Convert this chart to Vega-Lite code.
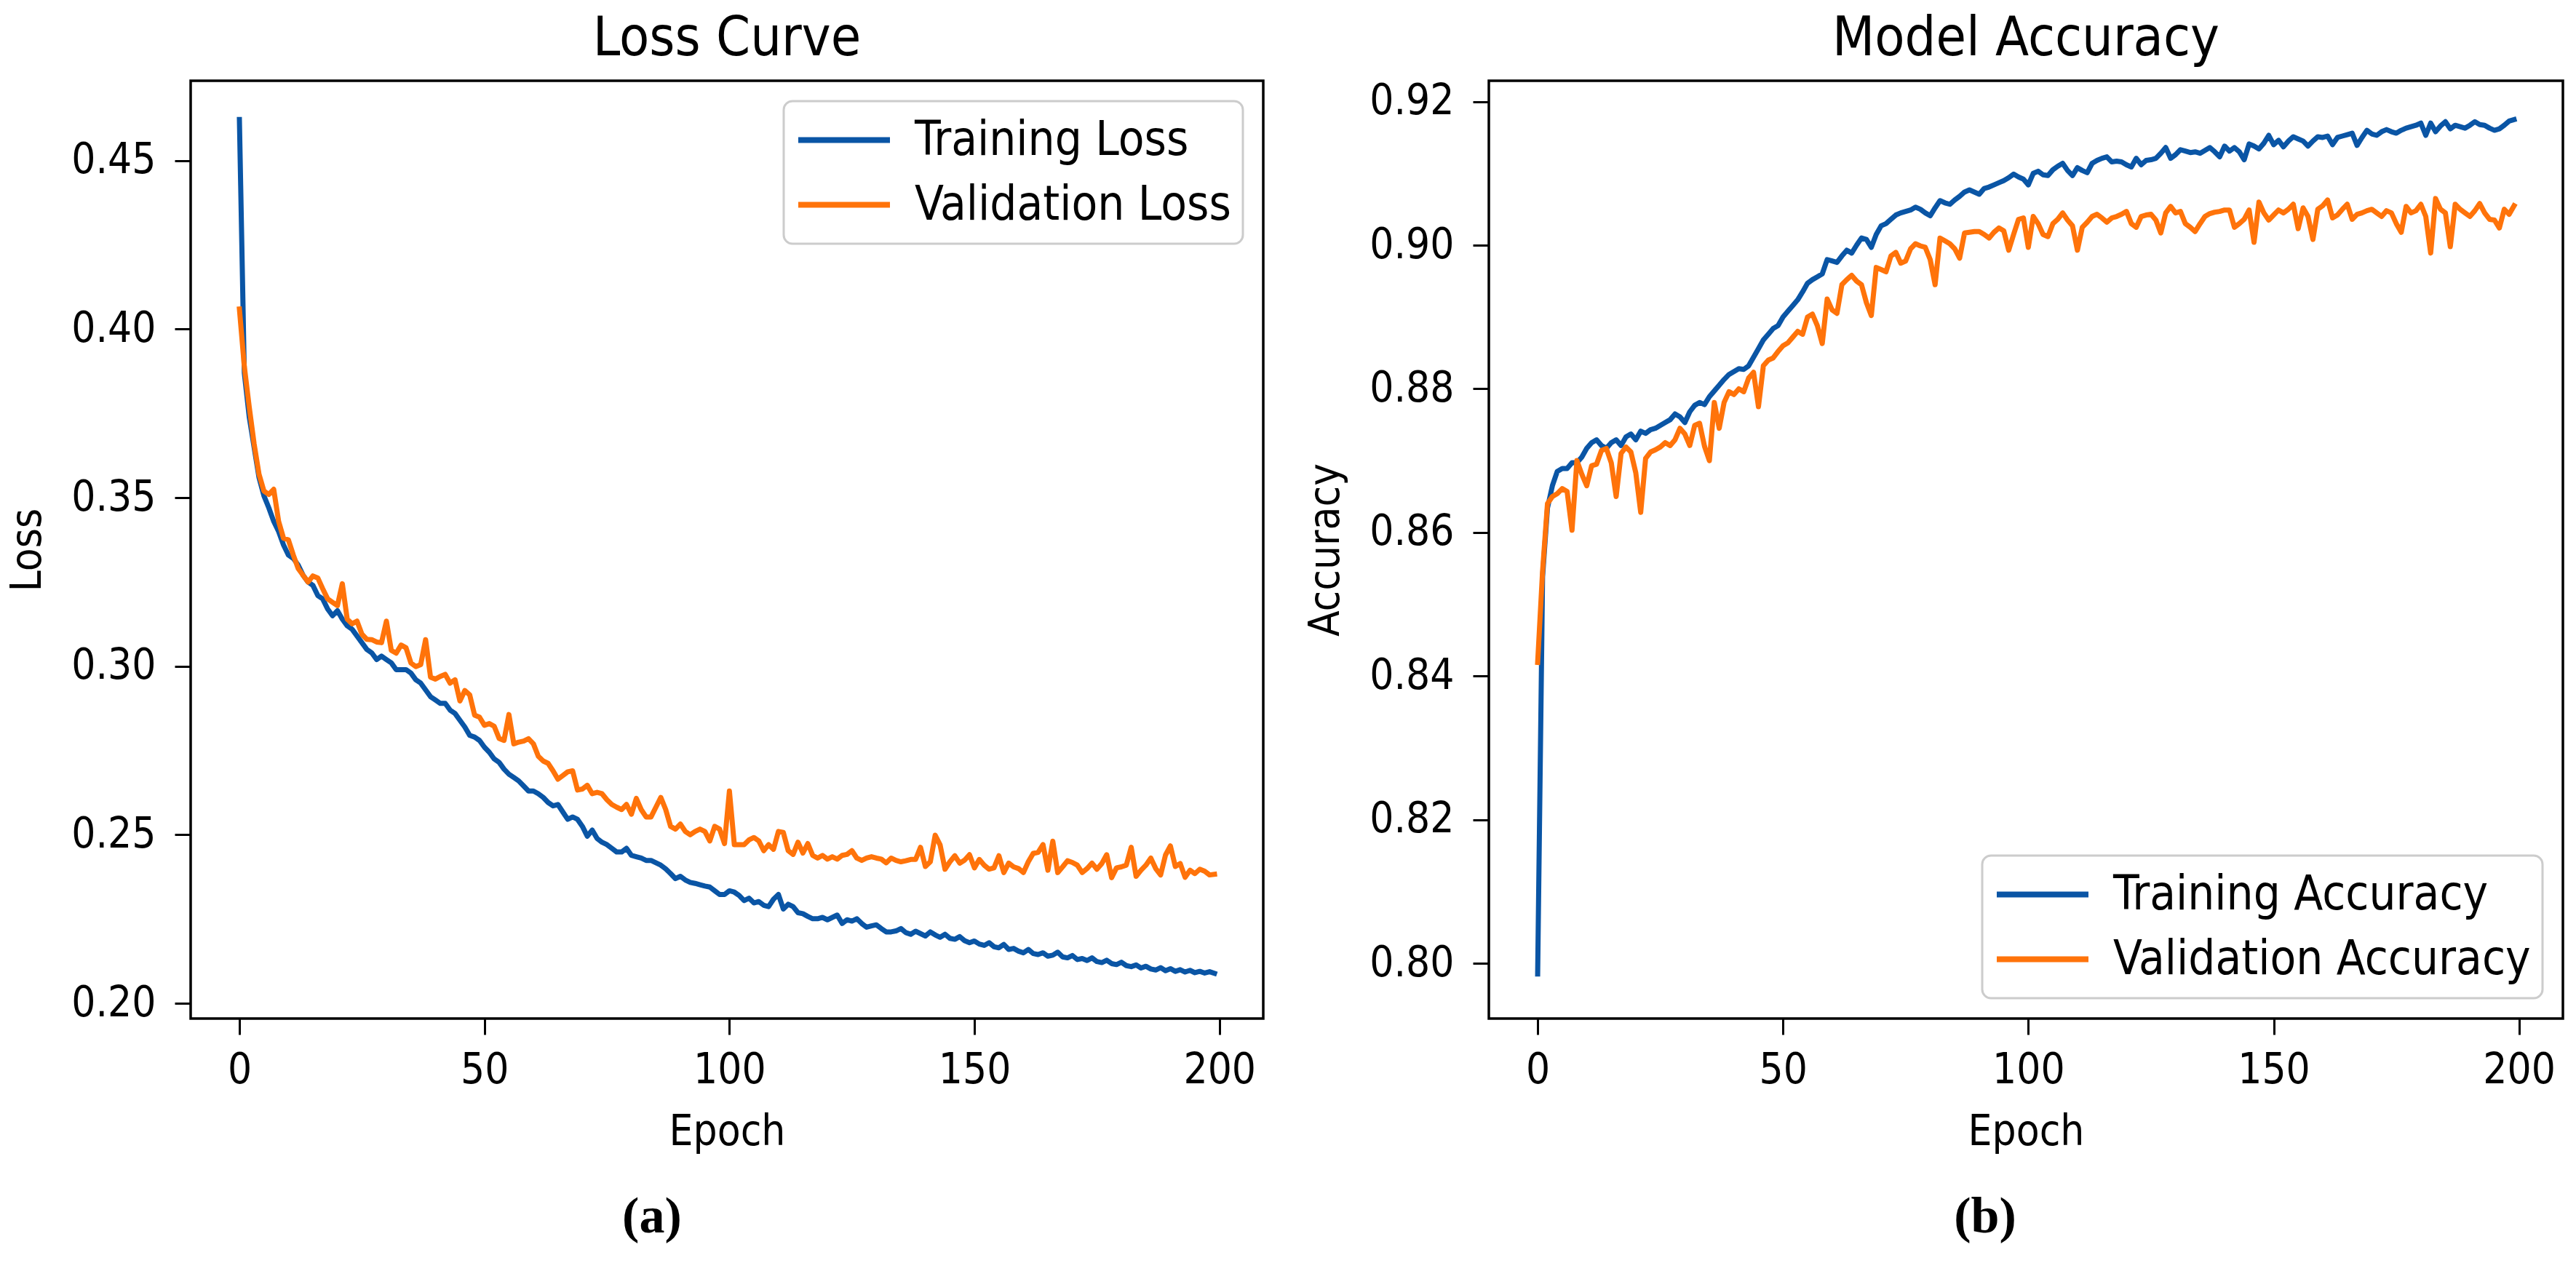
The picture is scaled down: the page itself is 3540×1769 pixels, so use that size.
{
"$schema": "https://vega.github.io/schema/vega-lite/v6.json",
"background": "white",
"padding": {"left": 8, "top": 13, "right": 5, "bottom": 5},
"spacing": 54,
"config": {
  "font": "DejaVu Sans Condensed, DejaVu Sans, sans-serif",
  "view": {"stroke": "black", "strokeWidth": 3.5},
  "axis": {"domain": false, "grid": false, "ticks": true, "tickColor": "black", "tickWidth": 3, "tickSize": 22,
           "labelFont": "DejaVu Sans Condensed, DejaVu Sans, sans-serif", "labelFontSize": 58, "labelColor": "black", "labelPadding": 26,
           "titleFont": "DejaVu Sans Condensed, DejaVu Sans, sans-serif", "titleFontSize": 58, "titleFontWeight": "normal", "titleColor": "black"},
  "legend": {"title": null, "symbolType": "stroke", "symbolSize": 15876, "symbolStrokeWidth": 8, "labelFont": "DejaVu Sans Condensed, DejaVu Sans, sans-serif",
             "labelFontSize": 65, "labelColor": "black", "labelOffset": 30, "padding": 16, "rowPadding": 14, "clipHeight": 75, "strokeColor": "#cccccc",
             "strokeWidth": 3, "cornerRadius": 12, "fillColor": "white", "labelLimit": 2000, "offset": 28},
  "title": {"font": "DejaVu Sans Condensed, DejaVu Sans, sans-serif", "fontSize": 75, "fontWeight": "normal", "color": "black"}
},
"datasets": {
"loss": [
{"epoch":0,"Training Loss":0.4622,"Validation Loss":0.406},
{"epoch":1,"Training Loss":0.3870,"Validation Loss":0.389},
{"epoch":2,"Training Loss":0.3740,"Validation Loss":0.377},
{"epoch":3,"Training Loss":0.3650,"Validation Loss":0.366},
{"epoch":4,"Training Loss":0.3560,"Validation Loss":0.357},
{"epoch":5,"Training Loss":0.3506,"Validation Loss":0.352},
{"epoch":6,"Training Loss":0.3470,"Validation Loss":0.351},
{"epoch":7,"Training Loss":0.3430,"Validation Loss":0.3525},
{"epoch":8,"Training Loss":0.3400,"Validation Loss":0.343},
{"epoch":9,"Training Loss":0.3360,"Validation Loss":0.338},
{"epoch":10,"Training Loss":0.3330,"Validation Loss":0.3375},
{"epoch":11,"Training Loss":0.3320,"Validation Loss":0.333},
{"epoch":12,"Training Loss":0.3300,"Validation Loss":0.329},
{"epoch":13,"Training Loss":0.3270,"Validation Loss":0.327},
{"epoch":14,"Training Loss":0.3250,"Validation Loss":0.325},
{"epoch":15,"Training Loss":0.3240,"Validation Loss":0.3268},
{"epoch":16,"Training Loss":0.3210,"Validation Loss":0.3262},
{"epoch":17,"Training Loss":0.3200,"Validation Loss":0.323},
{"epoch":18,"Training Loss":0.3170,"Validation Loss":0.320},
{"epoch":19,"Training Loss":0.3150,"Validation Loss":0.319},
{"epoch":20,"Training Loss":0.3165,"Validation Loss":0.318},
{"epoch":21,"Training Loss":0.3140,"Validation Loss":0.3245},
{"epoch":22,"Training Loss":0.3120,"Validation Loss":0.314},
{"epoch":23,"Training Loss":0.3110,"Validation Loss":0.3126},
{"epoch":24,"Training Loss":0.3090,"Validation Loss":0.3134},
{"epoch":25,"Training Loss":0.3070,"Validation Loss":0.3095},
{"epoch":26,"Training Loss":0.3050,"Validation Loss":0.308},
{"epoch":27,"Training Loss":0.3040,"Validation Loss":0.3079},
{"epoch":28,"Training Loss":0.3020,"Validation Loss":0.3072},
{"epoch":29,"Training Loss":0.3030,"Validation Loss":0.307},
{"epoch":30,"Training Loss":0.3020,"Validation Loss":0.3134},
{"epoch":31,"Training Loss":0.3010,"Validation Loss":0.3047},
{"epoch":32,"Training Loss":0.2990,"Validation Loss":0.3039},
{"epoch":33,"Training Loss":0.2990,"Validation Loss":0.3063},
{"epoch":34,"Training Loss":0.2990,"Validation Loss":0.3055},
{"epoch":35,"Training Loss":0.2980,"Validation Loss":0.3010},
{"epoch":36,"Training Loss":0.2960,"Validation Loss":0.2999},
{"epoch":37,"Training Loss":0.2950,"Validation Loss":0.3005},
{"epoch":38,"Training Loss":0.2930,"Validation Loss":0.3079},
{"epoch":39,"Training Loss":0.2910,"Validation Loss":0.2968},
{"epoch":40,"Training Loss":0.2900,"Validation Loss":0.2962},
{"epoch":41,"Training Loss":0.2890,"Validation Loss":0.2970},
{"epoch":42,"Training Loss":0.2890,"Validation Loss":0.2976},
{"epoch":43,"Training Loss":0.2870,"Validation Loss":0.2950},
{"epoch":44,"Training Loss":0.2860,"Validation Loss":0.2960},
{"epoch":45,"Training Loss":0.2840,"Validation Loss":0.2897},
{"epoch":46,"Training Loss":0.2820,"Validation Loss":0.2928},
{"epoch":47,"Training Loss":0.2795,"Validation Loss":0.2915},
{"epoch":48,"Training Loss":0.2790,"Validation Loss":0.2855},
{"epoch":49,"Training Loss":0.2780,"Validation Loss":0.2849},
{"epoch":50,"Training Loss":0.2760,"Validation Loss":0.2825},
{"epoch":51,"Training Loss":0.2745,"Validation Loss":0.2830},
{"epoch":52,"Training Loss":0.2725,"Validation Loss":0.2822},
{"epoch":53,"Training Loss":0.2715,"Validation Loss":0.2786},
{"epoch":54,"Training Loss":0.2695,"Validation Loss":0.2780},
{"epoch":55,"Training Loss":0.2680,"Validation Loss":0.2857},
{"epoch":56,"Training Loss":0.2670,"Validation Loss":0.2770},
{"epoch":57,"Training Loss":0.2660,"Validation Loss":0.2775},
{"epoch":58,"Training Loss":0.2645,"Validation Loss":0.2778},
{"epoch":59,"Training Loss":0.2630,"Validation Loss":0.2785},
{"epoch":60,"Training Loss":0.2630,"Validation Loss":0.2770},
{"epoch":61,"Training Loss":0.2622,"Validation Loss":0.2733},
{"epoch":62,"Training Loss":0.2611,"Validation Loss":0.2719},
{"epoch":63,"Training Loss":0.2596,"Validation Loss":0.2712},
{"epoch":64,"Training Loss":0.2586,"Validation Loss":0.2690},
{"epoch":65,"Training Loss":0.2590,"Validation Loss":0.2665},
{"epoch":66,"Training Loss":0.2568,"Validation Loss":0.2676},
{"epoch":67,"Training Loss":0.2546,"Validation Loss":0.2687},
{"epoch":68,"Training Loss":0.2553,"Validation Loss":0.2690},
{"epoch":69,"Training Loss":0.2546,"Validation Loss":0.2633},
{"epoch":70,"Training Loss":0.2525,"Validation Loss":0.2636},
{"epoch":71,"Training Loss":0.2496,"Validation Loss":0.2647},
{"epoch":72,"Training Loss":0.2514,"Validation Loss":0.2622},
{"epoch":73,"Training Loss":0.2489,"Validation Loss":0.2626},
{"epoch":74,"Training Loss":0.2478,"Validation Loss":0.2622},
{"epoch":75,"Training Loss":0.2471,"Validation Loss":0.2604},
{"epoch":76,"Training Loss":0.2460,"Validation Loss":0.2590},
{"epoch":77,"Training Loss":0.2449,"Validation Loss":0.2582},
{"epoch":78,"Training Loss":0.2449,"Validation Loss":0.2575},
{"epoch":79,"Training Loss":0.2460,"Validation Loss":0.2590},
{"epoch":80,"Training Loss":0.2439,"Validation Loss":0.2561},
{"epoch":81,"Training Loss":0.2435,"Validation Loss":0.2608},
{"epoch":82,"Training Loss":0.2431,"Validation Loss":0.2575},
{"epoch":83,"Training Loss":0.2424,"Validation Loss":0.2553},
{"epoch":84,"Training Loss":0.2424,"Validation Loss":0.2553},
{"epoch":85,"Training Loss":0.2417,"Validation Loss":0.2582},
{"epoch":86,"Training Loss":0.2410,"Validation Loss":0.2611},
{"epoch":87,"Training Loss":0.2399,"Validation Loss":0.2575},
{"epoch":88,"Training Loss":0.2385,"Validation Loss":0.2525},
{"epoch":89,"Training Loss":0.2370,"Validation Loss":0.2517},
{"epoch":90,"Training Loss":0.2377,"Validation Loss":0.2532},
{"epoch":91,"Training Loss":0.2366,"Validation Loss":0.2510},
{"epoch":92,"Training Loss":0.2359,"Validation Loss":0.2500},
{"epoch":93,"Training Loss":0.2356,"Validation Loss":0.2510},
{"epoch":94,"Training Loss":0.2352,"Validation Loss":0.2517},
{"epoch":95,"Training Loss":0.2348,"Validation Loss":0.2510},
{"epoch":96,"Training Loss":0.2345,"Validation Loss":0.2482},
{"epoch":97,"Training Loss":0.2334,"Validation Loss":0.2525},
{"epoch":98,"Training Loss":0.2323,"Validation Loss":0.2517},
{"epoch":99,"Training Loss":0.2323,"Validation Loss":0.2474},
{"epoch":100,"Training Loss":0.2334,"Validation Loss":0.2630},
{"epoch":101,"Training Loss":0.2330,"Validation Loss":0.2471},
{"epoch":102,"Training Loss":0.2320,"Validation Loss":0.2471},
{"epoch":103,"Training Loss":0.2305,"Validation Loss":0.2471},
{"epoch":104,"Training Loss":0.2312,"Validation Loss":0.2485},
{"epoch":105,"Training Loss":0.2298,"Validation Loss":0.2492},
{"epoch":106,"Training Loss":0.2302,"Validation Loss":0.2482},
{"epoch":107,"Training Loss":0.2291,"Validation Loss":0.2453},
{"epoch":108,"Training Loss":0.2287,"Validation Loss":0.2471},
{"epoch":109,"Training Loss":0.2309,"Validation Loss":0.2457},
{"epoch":110,"Training Loss":0.2323,"Validation Loss":0.2510},
{"epoch":111,"Training Loss":0.2280,"Validation Loss":0.2507},
{"epoch":112,"Training Loss":0.2294,"Validation Loss":0.2453},
{"epoch":113,"Training Loss":0.2287,"Validation Loss":0.2442},
{"epoch":114,"Training Loss":0.2269,"Validation Loss":0.2478},
{"epoch":115,"Training Loss":0.2266,"Validation Loss":0.2446},
{"epoch":116,"Training Loss":0.2258,"Validation Loss":0.2474},
{"epoch":117,"Training Loss":0.2251,"Validation Loss":0.2439},
{"epoch":118,"Training Loss":0.2251,"Validation Loss":0.2431},
{"epoch":119,"Training Loss":0.2255,"Validation Loss":0.2439},
{"epoch":120,"Training Loss":0.2248,"Validation Loss":0.2428},
{"epoch":121,"Training Loss":0.2255,"Validation Loss":0.2435},
{"epoch":122,"Training Loss":0.2262,"Validation Loss":0.2428},
{"epoch":123,"Training Loss":0.2237,"Validation Loss":0.2439},
{"epoch":124,"Training Loss":0.2248,"Validation Loss":0.2442},
{"epoch":125,"Training Loss":0.2244,"Validation Loss":0.2453},
{"epoch":126,"Training Loss":0.2251,"Validation Loss":0.2431},
{"epoch":127,"Training Loss":0.2237,"Validation Loss":0.2424},
{"epoch":128,"Training Loss":0.2226,"Validation Loss":0.2431},
{"epoch":129,"Training Loss":0.2230,"Validation Loss":0.2435},
{"epoch":130,"Training Loss":0.2233,"Validation Loss":0.2431},
{"epoch":131,"Training Loss":0.2222,"Validation Loss":0.2428},
{"epoch":132,"Training Loss":0.2212,"Validation Loss":0.2417},
{"epoch":133,"Training Loss":0.2212,"Validation Loss":0.2431},
{"epoch":134,"Training Loss":0.2215,"Validation Loss":0.2424},
{"epoch":135,"Training Loss":0.2222,"Validation Loss":0.2420},
{"epoch":136,"Training Loss":0.2210,"Validation Loss":0.2423},
{"epoch":137,"Training Loss":0.2205,"Validation Loss":0.2427},
{"epoch":138,"Training Loss":0.2214,"Validation Loss":0.2427},
{"epoch":139,"Training Loss":0.2207,"Validation Loss":0.2463},
{"epoch":140,"Training Loss":0.2200,"Validation Loss":0.2406},
{"epoch":141,"Training Loss":0.2212,"Validation Loss":0.2420},
{"epoch":142,"Training Loss":0.2203,"Validation Loss":0.2499},
{"epoch":143,"Training Loss":0.2196,"Validation Loss":0.2470},
{"epoch":144,"Training Loss":0.2205,"Validation Loss":0.2398},
{"epoch":145,"Training Loss":0.2193,"Validation Loss":0.2420},
{"epoch":146,"Training Loss":0.2190,"Validation Loss":0.2438},
{"epoch":147,"Training Loss":0.2198,"Validation Loss":0.2416},
{"epoch":148,"Training Loss":0.2186,"Validation Loss":0.2425},
{"epoch":149,"Training Loss":0.2180,"Validation Loss":0.2441},
{"epoch":150,"Training Loss":0.2185,"Validation Loss":0.2402},
{"epoch":151,"Training Loss":0.2176,"Validation Loss":0.2427},
{"epoch":152,"Training Loss":0.2172,"Validation Loss":0.2410},
{"epoch":153,"Training Loss":0.2180,"Validation Loss":0.2398},
{"epoch":154,"Training Loss":0.2168,"Validation Loss":0.2402},
{"epoch":155,"Training Loss":0.2165,"Validation Loss":0.2438},
{"epoch":156,"Training Loss":0.2175,"Validation Loss":0.2388},
{"epoch":157,"Training Loss":0.2160,"Validation Loss":0.2416},
{"epoch":158,"Training Loss":0.2163,"Validation Loss":0.2405},
{"epoch":159,"Training Loss":0.2155,"Validation Loss":0.2400},
{"epoch":160,"Training Loss":0.2150,"Validation Loss":0.2388},
{"epoch":161,"Training Loss":0.2160,"Validation Loss":0.2420},
{"epoch":162,"Training Loss":0.2148,"Validation Loss":0.2445},
{"epoch":163,"Training Loss":0.2145,"Validation Loss":0.2448},
{"epoch":164,"Training Loss":0.2150,"Validation Loss":0.2471},
{"epoch":165,"Training Loss":0.2140,"Validation Loss":0.2395},
{"epoch":166,"Training Loss":0.2143,"Validation Loss":0.2481},
{"epoch":167,"Training Loss":0.2152,"Validation Loss":0.2388},
{"epoch":168,"Training Loss":0.2138,"Validation Loss":0.2405},
{"epoch":169,"Training Loss":0.2135,"Validation Loss":0.2423},
{"epoch":170,"Training Loss":0.2142,"Validation Loss":0.2418},
{"epoch":171,"Training Loss":0.2130,"Validation Loss":0.2410},
{"epoch":172,"Training Loss":0.2133,"Validation Loss":0.2388},
{"epoch":173,"Training Loss":0.2127,"Validation Loss":0.2400},
{"epoch":174,"Training Loss":0.2135,"Validation Loss":0.2416},
{"epoch":175,"Training Loss":0.2124,"Validation Loss":0.2398},
{"epoch":176,"Training Loss":0.2121,"Validation Loss":0.2415},
{"epoch":177,"Training Loss":0.2128,"Validation Loss":0.2441},
{"epoch":178,"Training Loss":0.2118,"Validation Loss":0.2373},
{"epoch":179,"Training Loss":0.2115,"Validation Loss":0.2402},
{"epoch":180,"Training Loss":0.2122,"Validation Loss":0.2405},
{"epoch":181,"Training Loss":0.2112,"Validation Loss":0.2410},
{"epoch":182,"Training Loss":0.2109,"Validation Loss":0.2463},
{"epoch":183,"Training Loss":0.2114,"Validation Loss":0.2377},
{"epoch":184,"Training Loss":0.2105,"Validation Loss":0.2395},
{"epoch":185,"Training Loss":0.2110,"Validation Loss":0.2410},
{"epoch":186,"Training Loss":0.2102,"Validation Loss":0.2431},
{"epoch":187,"Training Loss":0.2099,"Validation Loss":0.2400},
{"epoch":188,"Training Loss":0.2106,"Validation Loss":0.2381},
{"epoch":189,"Training Loss":0.2097,"Validation Loss":0.2440},
{"epoch":190,"Training Loss":0.2103,"Validation Loss":0.2467},
{"epoch":191,"Training Loss":0.2095,"Validation Loss":0.2406},
{"epoch":192,"Training Loss":0.2100,"Validation Loss":0.2415},
{"epoch":193,"Training Loss":0.2093,"Validation Loss":0.2374},
{"epoch":194,"Training Loss":0.2098,"Validation Loss":0.2395},
{"epoch":195,"Training Loss":0.2091,"Validation Loss":0.2385},
{"epoch":196,"Training Loss":0.2095,"Validation Loss":0.2398},
{"epoch":197,"Training Loss":0.2090,"Validation Loss":0.2392},
{"epoch":198,"Training Loss":0.2094,"Validation Loss":0.2381},
{"epoch":199,"Training Loss":0.2089,"Validation Loss":0.2383}
],
"acc": [
{"epoch":0,"Training Accuracy":0.7985,"Validation Accuracy":0.8419},
{"epoch":1,"Training Accuracy":0.8538,"Validation Accuracy":0.8546},
{"epoch":2,"Training Accuracy":0.8634,"Validation Accuracy":0.8640},
{"epoch":3,"Training Accuracy":0.8665,"Validation Accuracy":0.8650},
{"epoch":4,"Training Accuracy":0.8685,"Validation Accuracy":0.8654},
{"epoch":5,"Training Accuracy":0.8689,"Validation Accuracy":0.8661},
{"epoch":6,"Training Accuracy":0.8689,"Validation Accuracy":0.8657},
{"epoch":7,"Training Accuracy":0.8697,"Validation Accuracy":0.8603},
{"epoch":8,"Training Accuracy":0.8697,"Validation Accuracy":0.8700},
{"epoch":9,"Training Accuracy":0.8705,"Validation Accuracy":0.8681},
{"epoch":10,"Training Accuracy":0.8717,"Validation Accuracy":0.8665},
{"epoch":11,"Training Accuracy":0.8725,"Validation Accuracy":0.8693},
{"epoch":12,"Training Accuracy":0.8729,"Validation Accuracy":0.8695},
{"epoch":13,"Training Accuracy":0.8721,"Validation Accuracy":0.8714},
{"epoch":14,"Training Accuracy":0.8717,"Validation Accuracy":0.8717},
{"epoch":15,"Training Accuracy":0.8725,"Validation Accuracy":0.8697},
{"epoch":16,"Training Accuracy":0.8729,"Validation Accuracy":0.8650},
{"epoch":17,"Training Accuracy":0.8721,"Validation Accuracy":0.8710},
{"epoch":18,"Training Accuracy":0.8733,"Validation Accuracy":0.8719},
{"epoch":19,"Training Accuracy":0.8737,"Validation Accuracy":0.8712},
{"epoch":20,"Training Accuracy":0.8729,"Validation Accuracy":0.8683},
{"epoch":21,"Training Accuracy":0.8741,"Validation Accuracy":0.8628},
{"epoch":22,"Training Accuracy":0.8738,"Validation Accuracy":0.8703},
{"epoch":23,"Training Accuracy":0.8743,"Validation Accuracy":0.8712},
{"epoch":24,"Training Accuracy":0.8745,"Validation Accuracy":0.8715},
{"epoch":25,"Training Accuracy":0.8749,"Validation Accuracy":0.8719},
{"epoch":26,"Training Accuracy":0.8753,"Validation Accuracy":0.8725},
{"epoch":27,"Training Accuracy":0.8757,"Validation Accuracy":0.8721},
{"epoch":28,"Training Accuracy":0.8765,"Validation Accuracy":0.8729},
{"epoch":29,"Training Accuracy":0.8761,"Validation Accuracy":0.8745},
{"epoch":30,"Training Accuracy":0.8753,"Validation Accuracy":0.8737},
{"epoch":31,"Training Accuracy":0.8768,"Validation Accuracy":0.8721},
{"epoch":32,"Training Accuracy":0.8777,"Validation Accuracy":0.8749},
{"epoch":33,"Training Accuracy":0.8781,"Validation Accuracy":0.8752},
{"epoch":34,"Training Accuracy":0.8778,"Validation Accuracy":0.8720},
{"epoch":35,"Training Accuracy":0.8789,"Validation Accuracy":0.8700},
{"epoch":36,"Training Accuracy":0.8797,"Validation Accuracy":0.8781},
{"epoch":37,"Training Accuracy":0.8805,"Validation Accuracy":0.8745},
{"epoch":38,"Training Accuracy":0.8813,"Validation Accuracy":0.8781},
{"epoch":39,"Training Accuracy":0.8820,"Validation Accuracy":0.8796},
{"epoch":40,"Training Accuracy":0.8824,"Validation Accuracy":0.8792},
{"epoch":41,"Training Accuracy":0.8828,"Validation Accuracy":0.8800},
{"epoch":42,"Training Accuracy":0.8827,"Validation Accuracy":0.8796},
{"epoch":43,"Training Accuracy":0.8832,"Validation Accuracy":0.8815},
{"epoch":44,"Training Accuracy":0.8844,"Validation Accuracy":0.8823},
{"epoch":45,"Training Accuracy":0.8856,"Validation Accuracy":0.8775},
{"epoch":46,"Training Accuracy":0.8868,"Validation Accuracy":0.8832},
{"epoch":47,"Training Accuracy":0.8876,"Validation Accuracy":0.8840},
{"epoch":48,"Training Accuracy":0.8884,"Validation Accuracy":0.8843},
{"epoch":49,"Training Accuracy":0.8888,"Validation Accuracy":0.8852},
{"epoch":50,"Training Accuracy":0.8900,"Validation Accuracy":0.8860},
{"epoch":51,"Training Accuracy":0.8908,"Validation Accuracy":0.8864},
{"epoch":52,"Training Accuracy":0.8916,"Validation Accuracy":0.8872},
{"epoch":53,"Training Accuracy":0.8924,"Validation Accuracy":0.8880},
{"epoch":54,"Training Accuracy":0.8935,"Validation Accuracy":0.8876},
{"epoch":55,"Training Accuracy":0.8947,"Validation Accuracy":0.8900},
{"epoch":56,"Training Accuracy":0.8952,"Validation Accuracy":0.8904},
{"epoch":57,"Training Accuracy":0.8956,"Validation Accuracy":0.8888},
{"epoch":58,"Training Accuracy":0.8960,"Validation Accuracy":0.8863},
{"epoch":59,"Training Accuracy":0.8980,"Validation Accuracy":0.8925},
{"epoch":60,"Training Accuracy":0.8978,"Validation Accuracy":0.8910},
{"epoch":61,"Training Accuracy":0.8976,"Validation Accuracy":0.8905},
{"epoch":62,"Training Accuracy":0.8985,"Validation Accuracy":0.8945},
{"epoch":63,"Training Accuracy":0.8993,"Validation Accuracy":0.8952},
{"epoch":64,"Training Accuracy":0.8989,"Validation Accuracy":0.8958},
{"epoch":65,"Training Accuracy":0.9000,"Validation Accuracy":0.8950},
{"epoch":66,"Training Accuracy":0.9010,"Validation Accuracy":0.8945},
{"epoch":67,"Training Accuracy":0.9008,"Validation Accuracy":0.8920},
{"epoch":68,"Training Accuracy":0.8997,"Validation Accuracy":0.8902},
{"epoch":69,"Training Accuracy":0.9015,"Validation Accuracy":0.8969},
{"epoch":70,"Training Accuracy":0.9027,"Validation Accuracy":0.8966},
{"epoch":71,"Training Accuracy":0.9030,"Validation Accuracy":0.8963},
{"epoch":72,"Training Accuracy":0.9036,"Validation Accuracy":0.8985},
{"epoch":73,"Training Accuracy":0.9042,"Validation Accuracy":0.8990},
{"epoch":74,"Training Accuracy":0.9045,"Validation Accuracy":0.8975},
{"epoch":75,"Training Accuracy":0.9047,"Validation Accuracy":0.8978},
{"epoch":76,"Training Accuracy":0.9049,"Validation Accuracy":0.8995},
{"epoch":77,"Training Accuracy":0.9053,"Validation Accuracy":0.9002},
{"epoch":78,"Training Accuracy":0.9050,"Validation Accuracy":0.8999},
{"epoch":79,"Training Accuracy":0.9045,"Validation Accuracy":0.8997},
{"epoch":80,"Training Accuracy":0.9041,"Validation Accuracy":0.8980},
{"epoch":81,"Training Accuracy":0.9052,"Validation Accuracy":0.8945},
{"epoch":82,"Training Accuracy":0.9062,"Validation Accuracy":0.9010},
{"epoch":83,"Training Accuracy":0.9059,"Validation Accuracy":0.9006},
{"epoch":84,"Training Accuracy":0.9057,"Validation Accuracy":0.9002},
{"epoch":85,"Training Accuracy":0.9063,"Validation Accuracy":0.8995},
{"epoch":86,"Training Accuracy":0.9068,"Validation Accuracy":0.8982},
{"epoch":87,"Training Accuracy":0.9074,"Validation Accuracy":0.9017},
{"epoch":88,"Training Accuracy":0.9077,"Validation Accuracy":0.9018},
{"epoch":89,"Training Accuracy":0.9074,"Validation Accuracy":0.9019},
{"epoch":90,"Training Accuracy":0.9071,"Validation Accuracy":0.9019},
{"epoch":91,"Training Accuracy":0.9079,"Validation Accuracy":0.9015},
{"epoch":92,"Training Accuracy":0.9081,"Validation Accuracy":0.9010},
{"epoch":93,"Training Accuracy":0.9084,"Validation Accuracy":0.9018},
{"epoch":94,"Training Accuracy":0.9087,"Validation Accuracy":0.9024},
{"epoch":95,"Training Accuracy":0.9090,"Validation Accuracy":0.9020},
{"epoch":96,"Training Accuracy":0.9094,"Validation Accuracy":0.8993},
{"epoch":97,"Training Accuracy":0.9099,"Validation Accuracy":0.9015},
{"epoch":98,"Training Accuracy":0.9095,"Validation Accuracy":0.9036},
{"epoch":99,"Training Accuracy":0.9092,"Validation Accuracy":0.9038},
{"epoch":100,"Training Accuracy":0.9084,"Validation Accuracy":0.8997},
{"epoch":101,"Training Accuracy":0.9100,"Validation Accuracy":0.9040},
{"epoch":102,"Training Accuracy":0.9103,"Validation Accuracy":0.9030},
{"epoch":103,"Training Accuracy":0.9098,"Validation Accuracy":0.9015},
{"epoch":104,"Training Accuracy":0.9097,"Validation Accuracy":0.9012},
{"epoch":105,"Training Accuracy":0.9105,"Validation Accuracy":0.9030},
{"epoch":106,"Training Accuracy":0.9110,"Validation Accuracy":0.9036},
{"epoch":107,"Training Accuracy":0.9114,"Validation Accuracy":0.9045},
{"epoch":108,"Training Accuracy":0.9104,"Validation Accuracy":0.9035},
{"epoch":109,"Training Accuracy":0.9097,"Validation Accuracy":0.9027},
{"epoch":110,"Training Accuracy":0.9108,"Validation Accuracy":0.8993},
{"epoch":111,"Training Accuracy":0.9104,"Validation Accuracy":0.9025},
{"epoch":112,"Training Accuracy":0.9101,"Validation Accuracy":0.9032},
{"epoch":113,"Training Accuracy":0.9114,"Validation Accuracy":0.9040},
{"epoch":114,"Training Accuracy":0.9118,"Validation Accuracy":0.9043},
{"epoch":115,"Training Accuracy":0.9121,"Validation Accuracy":0.9038},
{"epoch":116,"Training Accuracy":0.9123,"Validation Accuracy":0.9032},
{"epoch":117,"Training Accuracy":0.9116,"Validation Accuracy":0.9038},
{"epoch":118,"Training Accuracy":0.9117,"Validation Accuracy":0.9040},
{"epoch":119,"Training Accuracy":0.9116,"Validation Accuracy":0.9043},
{"epoch":120,"Training Accuracy":0.9112,"Validation Accuracy":0.9047},
{"epoch":121,"Training Accuracy":0.9109,"Validation Accuracy":0.9030},
{"epoch":122,"Training Accuracy":0.9121,"Validation Accuracy":0.9025},
{"epoch":123,"Training Accuracy":0.9112,"Validation Accuracy":0.9040},
{"epoch":124,"Training Accuracy":0.9118,"Validation Accuracy":0.9042},
{"epoch":125,"Training Accuracy":0.9119,"Validation Accuracy":0.9043},
{"epoch":126,"Training Accuracy":0.9121,"Validation Accuracy":0.9035},
{"epoch":127,"Training Accuracy":0.9128,"Validation Accuracy":0.9017},
{"epoch":128,"Training Accuracy":0.9136,"Validation Accuracy":0.9045},
{"epoch":129,"Training Accuracy":0.9121,"Validation Accuracy":0.9054},
{"epoch":130,"Training Accuracy":0.9126,"Validation Accuracy":0.9045},
{"epoch":131,"Training Accuracy":0.9133,"Validation Accuracy":0.9047},
{"epoch":132,"Training Accuracy":0.9131,"Validation Accuracy":0.9030},
{"epoch":133,"Training Accuracy":0.9129,"Validation Accuracy":0.9025},
{"epoch":134,"Training Accuracy":0.9130,"Validation Accuracy":0.9019},
{"epoch":135,"Training Accuracy":0.9128,"Validation Accuracy":0.9030},
{"epoch":136,"Training Accuracy":0.9132,"Validation Accuracy":0.9040},
{"epoch":137,"Training Accuracy":0.9136,"Validation Accuracy":0.9044},
{"epoch":138,"Training Accuracy":0.9130,"Validation Accuracy":0.9046},
{"epoch":139,"Training Accuracy":0.9123,"Validation Accuracy":0.9047},
{"epoch":140,"Training Accuracy":0.9138,"Validation Accuracy":0.9049},
{"epoch":141,"Training Accuracy":0.9131,"Validation Accuracy":0.9049},
{"epoch":142,"Training Accuracy":0.9136,"Validation Accuracy":0.9025},
{"epoch":143,"Training Accuracy":0.9130,"Validation Accuracy":0.9030},
{"epoch":144,"Training Accuracy":0.9119,"Validation Accuracy":0.9036},
{"epoch":145,"Training Accuracy":0.9141,"Validation Accuracy":0.9049},
{"epoch":146,"Training Accuracy":0.9138,"Validation Accuracy":0.9004},
{"epoch":147,"Training Accuracy":0.9134,"Validation Accuracy":0.9060},
{"epoch":148,"Training Accuracy":0.9142,"Validation Accuracy":0.9045},
{"epoch":149,"Training Accuracy":0.9153,"Validation Accuracy":0.9035},
{"epoch":150,"Training Accuracy":0.9140,"Validation Accuracy":0.9042},
{"epoch":151,"Training Accuracy":0.9146,"Validation Accuracy":0.9049},
{"epoch":152,"Training Accuracy":0.9137,"Validation Accuracy":0.9045},
{"epoch":153,"Training Accuracy":0.9145,"Validation Accuracy":0.9050},
{"epoch":154,"Training Accuracy":0.9151,"Validation Accuracy":0.9057},
{"epoch":155,"Training Accuracy":0.9148,"Validation Accuracy":0.9023},
{"epoch":156,"Training Accuracy":0.9145,"Validation Accuracy":0.9052},
{"epoch":157,"Training Accuracy":0.9138,"Validation Accuracy":0.9040},
{"epoch":158,"Training Accuracy":0.9145,"Validation Accuracy":0.9008},
{"epoch":159,"Training Accuracy":0.9151,"Validation Accuracy":0.9050},
{"epoch":160,"Training Accuracy":0.9150,"Validation Accuracy":0.9055},
{"epoch":161,"Training Accuracy":0.9152,"Validation Accuracy":0.9063},
{"epoch":162,"Training Accuracy":0.9140,"Validation Accuracy":0.9038},
{"epoch":163,"Training Accuracy":0.9150,"Validation Accuracy":0.9042},
{"epoch":164,"Training Accuracy":0.9152,"Validation Accuracy":0.9050},
{"epoch":165,"Training Accuracy":0.9154,"Validation Accuracy":0.9057},
{"epoch":166,"Training Accuracy":0.9156,"Validation Accuracy":0.9036},
{"epoch":167,"Training Accuracy":0.9139,"Validation Accuracy":0.9043},
{"epoch":168,"Training Accuracy":0.9150,"Validation Accuracy":0.9045},
{"epoch":169,"Training Accuracy":0.9160,"Validation Accuracy":0.9048},
{"epoch":170,"Training Accuracy":0.9155,"Validation Accuracy":0.9050},
{"epoch":171,"Training Accuracy":0.9153,"Validation Accuracy":0.9045},
{"epoch":172,"Training Accuracy":0.9158,"Validation Accuracy":0.9040},
{"epoch":173,"Training Accuracy":0.9161,"Validation Accuracy":0.9048},
{"epoch":174,"Training Accuracy":0.9158,"Validation Accuracy":0.9045},
{"epoch":175,"Training Accuracy":0.9156,"Validation Accuracy":0.9030},
{"epoch":176,"Training Accuracy":0.9160,"Validation Accuracy":0.9018},
{"epoch":177,"Training Accuracy":0.9163,"Validation Accuracy":0.9054},
{"epoch":178,"Training Accuracy":0.9165,"Validation Accuracy":0.9045},
{"epoch":179,"Training Accuracy":0.9167,"Validation Accuracy":0.9048},
{"epoch":180,"Training Accuracy":0.9170,"Validation Accuracy":0.9057},
{"epoch":181,"Training Accuracy":0.9153,"Validation Accuracy":0.9040},
{"epoch":182,"Training Accuracy":0.9170,"Validation Accuracy":0.8989},
{"epoch":183,"Training Accuracy":0.9158,"Validation Accuracy":0.9065},
{"epoch":184,"Training Accuracy":0.9166,"Validation Accuracy":0.9050},
{"epoch":185,"Training Accuracy":0.9172,"Validation Accuracy":0.9045},
{"epoch":186,"Training Accuracy":0.9162,"Validation Accuracy":0.8998},
{"epoch":187,"Training Accuracy":0.9167,"Validation Accuracy":0.9057},
{"epoch":188,"Training Accuracy":0.9165,"Validation Accuracy":0.9050},
{"epoch":189,"Training Accuracy":0.9163,"Validation Accuracy":0.9045},
{"epoch":190,"Training Accuracy":0.9167,"Validation Accuracy":0.9040},
{"epoch":191,"Training Accuracy":0.9172,"Validation Accuracy":0.9048},
{"epoch":192,"Training Accuracy":0.9168,"Validation Accuracy":0.9058},
{"epoch":193,"Training Accuracy":0.9167,"Validation Accuracy":0.9045},
{"epoch":194,"Training Accuracy":0.9163,"Validation Accuracy":0.9036},
{"epoch":195,"Training Accuracy":0.9160,"Validation Accuracy":0.9035},
{"epoch":196,"Training Accuracy":0.9162,"Validation Accuracy":0.9024},
{"epoch":197,"Training Accuracy":0.9167,"Validation Accuracy":0.9050},
{"epoch":198,"Training Accuracy":0.9173,"Validation Accuracy":0.9043},
{"epoch":199,"Training Accuracy":0.9175,"Validation Accuracy":0.9055}
]
},
"hconcat": [
 {
  "title": {"text": "(a)", "orient": "bottom", "anchor": "middle", "font": "Liberation Serif", "fontSize": 70, "fontWeight": "bold", "offset": 52, "dx": 23},
  "resolve": {"scale": {"color": "independent"}, "legend": {"color": "independent"}},
  "vconcat": [
   {
    "width": 1474, "height": 1289,
    "title": {"text": "Loss Curve", "frame": "group", "anchor": "middle", "offset": 19},
    "data": {"name": "loss"},
    "transform": [{"fold": ["Training Loss", "Validation Loss"], "as": ["series", "value"]}],
    "mark": {"type": "line", "strokeWidth": 7, "strokeJoin": "round", "strokeCap": "square", "clip": true},
    "encoding": {
      "x": {"field": "epoch", "type": "quantitative", "scale": {"domain": [-9.95, 208.95], "nice": false, "zero": false},
            "axis": {"title": "Epoch", "values": [0, 50, 100, 150, 200], "format": "d", "labelPadding": 20, "titlePadding": 27}},
      "y": {"field": "value", "type": "quantitative", "scale": {"domain": [0.1955, 0.4737], "nice": false, "zero": false},
            "axis": {"title": "Loss", "values": [0.20, 0.25, 0.30, 0.35, 0.40, 0.45], "format": ".2f", "titlePadding": 30}},
      "color": {"field": "series", "type": "nominal",
                "scale": {"domain": ["Training Loss", "Validation Loss"], "range": ["#0a55a5", "#ff730a"]},
                "legend": {"orient": "top-right"}}
    }
   }
  ]
 },
 {
  "title": {"text": "(b)", "orient": "bottom", "anchor": "middle", "font": "Liberation Serif", "fontSize": 70, "fontWeight": "bold", "offset": 52, "dx": 70},
  "resolve": {"scale": {"color": "independent"}, "legend": {"color": "independent"}},
  "vconcat": [
   {
    "width": 1476, "height": 1289,
    "title": {"text": "Model Accuracy", "frame": "group", "anchor": "middle", "offset": 19},
    "data": {"name": "acc"},
    "transform": [{"fold": ["Training Accuracy", "Validation Accuracy"], "as": ["series", "value"]}],
    "mark": {"type": "line", "strokeWidth": 7, "strokeJoin": "round", "strokeCap": "square", "clip": true},
    "encoding": {
      "x": {"field": "epoch", "type": "quantitative", "scale": {"domain": [-9.95, 208.95], "nice": false, "zero": false},
            "axis": {"title": "Epoch", "values": [0, 50, 100, 150, 200], "format": "d", "labelPadding": 20, "titlePadding": 27}},
      "y": {"field": "value", "type": "quantitative", "scale": {"domain": [0.7923, 0.9229], "nice": false, "zero": false},
            "axis": {"title": "Accuracy", "values": [0.80, 0.82, 0.84, 0.86, 0.88, 0.90, 0.92], "format": ".2f", "titlePadding": 30}},
      "color": {"field": "series", "type": "nominal",
                "scale": {"domain": ["Training Accuracy", "Validation Accuracy"], "range": ["#0a55a5", "#ff730a"]},
                "legend": {"orient": "bottom-right"}}
    }
   }
  ]
 }
],
"resolve": {"scale": {"color": "independent"}, "legend": {"color": "independent"}}
}
